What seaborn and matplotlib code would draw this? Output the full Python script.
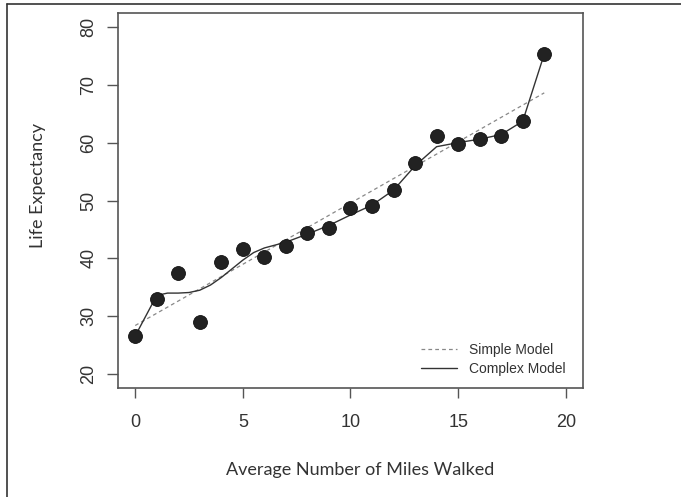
import matplotlib
matplotlib.use("Agg")
import matplotlib.pyplot as plt
import seaborn as sns
import pandas as pd
from matplotlib.lines import Line2D

# observed points
miles = list(range(20))
life = [26.5, 32.9, 37.4, 29.0, 39.4, 41.6, 40.3, 42.2, 44.4, 45.3,
        48.7, 49.1, 51.8, 56.4, 61.1, 59.7, 60.6, 61.2, 63.7, 75.3]

# simple model (straight dashed line), read at its ends
simple_x = [0, 19]
simple_y = [28.4, 68.6]

# complex model (solid curve)
complex_x = [0, 1, 1.5, 2, 2.5, 3, 3.5, 4, 4.5, 5, 5.5, 6, 7, 8, 9, 10,
             11, 12, 13, 14, 15, 16, 17, 18, 19]
complex_y = [26.6, 33.6, 34.0, 34.0, 34.1, 34.5, 35.4, 36.7, 38.2, 39.7,
             41.0, 41.8, 42.8, 44.2, 45.7, 47.5, 49.2, 51.8, 56.0, 59.3,
             60.0, 60.6, 61.4, 63.7, 75.3]

x_ticks = [0, 5, 10, 15, 20]
y_ticks = [20, 30, 40, 50, 60, 70, 80]

sns.set_style("white")
plt.rcParams['font.family'] = ['Liberation Sans', 'DejaVu Sans']

pts = pd.DataFrame({'miles': miles, 'life': life})
simple = pd.DataFrame({'x': simple_x, 'y': simple_y})
cplx = pd.DataFrame({'x': complex_x, 'y': complex_y})

fig = plt.figure(figsize=(6.81, 4.97), dpi=100)
ax = fig.add_axes([118 / 681, 1 - 388 / 497, 465 / 681, 375 / 497])

sns.lineplot(data=simple, x='x', y='y', ax=ax, color='#888888', lw=0.9,
             linestyle=(0, (3, 2.5)), label='Simple Model')
sns.lineplot(data=cplx, x='x', y='y', ax=ax, color='#333333', lw=1.0,
             label='Complex Model')
sns.scatterplot(data=pts, x='miles', y='life', ax=ax, color='#222222',
                s=100, edgecolor='#111111', linewidth=0.6, zorder=3)

ax.set_xlim(-0.8, 20.8)
ax.set_ylim(17.6, 82.4)
ax.set_xticks(x_ticks)
ax.set_yticks(y_ticks)
ax.tick_params(axis='x', direction='out', length=7, width=1, color='#555555',
               labelsize=13, labelcolor='#333333', pad=12)
ax.tick_params(axis='y', direction='out', length=8, width=1, color='#555555',
               labelsize=13, labelcolor='#333333', pad=7)
for lab in ax.get_yticklabels():
    lab.set_rotation(90)
    lab.set_va('center')
ax.tick_params(axis='both', bottom=True, left=True)
for sp in ax.spines.values():
    sp.set_color('#555555')
    sp.set_linewidth(1.2)

ax.set_xlabel('Average Number of Miles Walked', family=['Lato', 'DejaVu Sans'],
              fontsize=13, color='#333333')
ax.set_ylabel('Life Expectancy', family=['Lato', 'DejaVu Sans'],
              fontsize=13, color='#333333')
ax.xaxis.set_label_coords(0.52, -0.197)
ax.yaxis.set_label_coords(-0.155, 0.54)

leg = ax.legend(loc='lower right', frameon=False, fontsize=10,
                handlelength=2.6, labelspacing=0.35, handletextpad=0.9,
                bbox_to_anchor=(0.99, 0.0))
for t in leg.get_texts():
    t.set_color('#333333')

# outer frame of the figure
fig.add_artist(Line2D([7 / 681, 1.01], [1 - 4 / 497, 1 - 4 / 497],
                      transform=fig.transFigure, color='#333333', lw=1.2))
fig.add_artist(Line2D([7 / 681, 7 / 681], [1 - 4 / 497, -0.01],
                      transform=fig.transFigure, color='#333333', lw=1.2))

fig.savefig('out.png', dpi=100, facecolor='white')
